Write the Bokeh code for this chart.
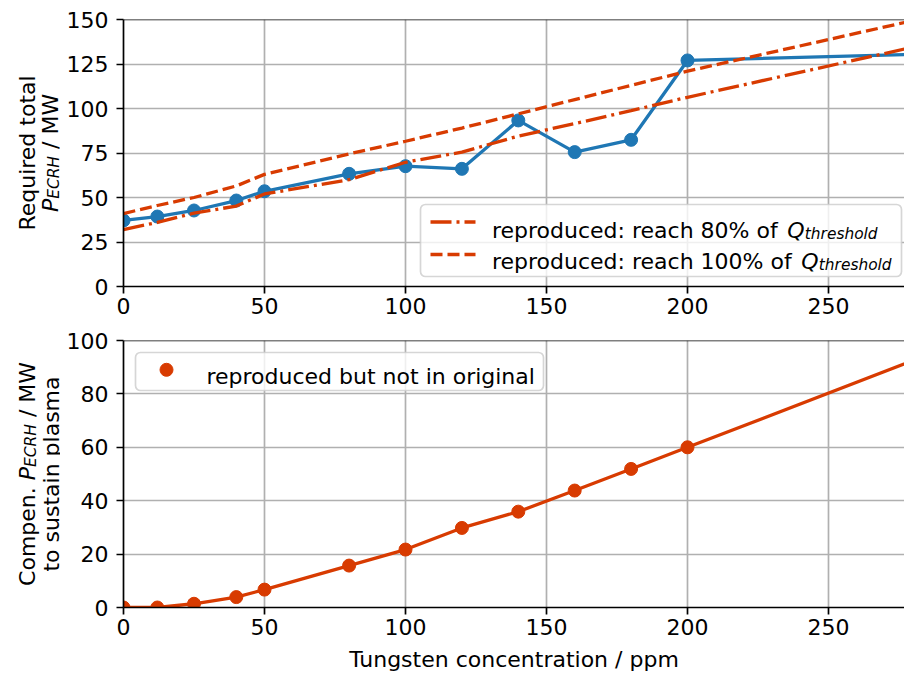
from math import pi
from bokeh.plotting import figure
from bokeh.models import Range1d, FixedTicker, Span, BoxAnnotation, Label
from bokeh.core.properties import value
from bokeh.layouts import column, row
from bokeh.embed import file_html
from bokeh.resources import INLINE

# ---------------- data ----------------
conc = [0, 12, 25, 40, 50, 80, 100, 120, 140, 160, 180, 200, 300]
p_total = [37.1, 39.3, 42.7, 48.3, 53.5, 63.3, 67.6, 66.1, 93.3, 75.5, 82.4, 127.0, 131.3]
p_reach80 = [32.0, 36.0, 41.2, 45.2, 52.0, 60.0, 69.8, 75.5, 84.5, 91.5, 98.8, 106.3, 141.5]
p_reach100 = [41.0, 45.5, 50.0, 56.5, 63.0, 74.5, 81.6, 89.0, 97.0, 105.0, 113.0, 121.0, 156.5]
p_compen = [0.0, 0.0, 1.4, 3.9, 6.7, 15.7, 21.7, 29.8, 35.9, 43.8, 51.9, 60.0, 100.6]
x_ticks = [0, 50, 100, 150, 200, 250]
y_ticks_top = [0, 25, 50, 75, 100, 125, 150]
y_ticks_bottom = [0, 20, 40, 60, 80, 100]
legend_top = ["reproduced: reach 80% of", "reproduced: reach 100% of"]
legend_bottom = "reproduced but not in original"
x_label = "Tungsten concentration / ppm"

# ---------------- style ----------------
BLUE = "#1f77b4"
ORANGE = "#d83b01"
FONT = "DejaVu Sans"
F = 22
FS = 15.4
LW = 3.3

# ---------------- geometry (page pixels) ----------------
LBL_W = 60
FRAME_L, FRAME_R = 123, 904
X_END = (FRAME_R - FRAME_L) / 2.82
SX = (FRAME_R - FRAME_L) / X_END
H1, H2 = 323, 356
T1_TOP, T1_BOT = 19, 286
T2_TOP, T2_BOT = 340, 607


def xd(px):
    return (px - FRAME_L) / SX


def yd1(py):
    return (T1_BOT - py) / ((T1_BOT - T1_TOP) / 150.0)


def yd2(py):
    return (T2_BOT - py) / ((T2_BOT - T2_TOP) / 100.0)


def make_fig(height, top, bottom, ymax, yticks):
    p = figure(width=904 - LBL_W, height=height, output_backend="svg", toolbar_location=None,
               x_range=Range1d(0, X_END), y_range=Range1d(0, ymax),
               min_border_left=FRAME_L - LBL_W, min_border_right=0,
               min_border_top=top, min_border_bottom=bottom)
    p.outline_line_color = None
    p.background_fill_color = "white"
    p.border_fill_color = "white"
    for ax in (p.xaxis[0], p.yaxis[0]):
        ax.axis_line_color = "black"
        ax.axis_line_width = 1.7
        ax.major_tick_line_color = "black"
        ax.major_tick_line_width = 1.7
        ax.major_tick_out = 7
        ax.major_tick_in = 0
        ax.minor_tick_line_color = None
        ax.major_label_text_font = FONT
        ax.major_label_text_font_size = f"{F}px"
        ax.major_label_text_color = "black"
    p.xaxis[0].ticker = FixedTicker(ticks=x_ticks)
    p.yaxis[0].ticker = FixedTicker(ticks=yticks)
    p.xaxis[0].major_label_standoff = 4
    p.yaxis[0].major_label_standoff = 8
    for g in (p.xgrid[0], p.ygrid[0]):
        g.grid_line_color = "#b0b0b0"
        g.grid_line_width = 1.7
    p.xgrid[0].ticker = FixedTicker(ticks=x_ticks)
    p.ygrid[0].ticker = FixedTicker(ticks=yticks)
    p.add_layout(Span(location=ymax, dimension="width", line_color="black", line_width=1.7))
    return p


def label_fig(height, top, bottom, page_top, page_bot):
    # a narrow strip whose frame is aligned with the neighbouring plot frame;
    # its y coordinate is minus the page pixel row
    q = figure(width=LBL_W, height=height, output_backend="svg", toolbar_location=None,
               x_range=Range1d(0, LBL_W), y_range=Range1d(-page_bot, -page_top),
               x_axis_location=None, y_axis_location=None, min_border=0)
    q.min_border_left = 0
    q.min_border_right = 0
    q.min_border_top = top
    q.min_border_bottom = bottom
    q.outline_line_color = None
    q.grid.visible = False
    q.background_fill_color = "white"
    q.border_fill_color = "white"
    return q


def rtext(q, x, py, text, size=F, style="normal", align="left"):
    # rotated (reading upwards) text, page pixel coordinates
    q.text(x=[x], y=[-py], text=[text], angle=pi / 2,
           text_align=align, text_baseline="alphabetic", text_font=value(FONT),
           text_font_size=value(f"{size}px"), text_font_style=style, text_color="black")


def lab(p, x, y, text, size=F, style="normal"):
    p.add_layout(Label(x=x, y=y, text=text, text_align="left", text_baseline="alphabetic",
                       text_font=FONT, text_font_size=f"{size}px", text_font_style=style,
                       text_color="black", level="overlay"))


# ---------------- top panel ----------------
p1 = make_fig(H1, T1_TOP, H1 - T1_BOT, 150, y_ticks_top)
p1.line(conc, p_total, line_color=BLUE, line_width=LW)
p1.scatter(conc, p_total, size=13, fill_color=BLUE, line_color=BLUE)
p1.line(conc, p_reach80, line_color=ORANGE, line_width=LW, line_dash="21 5 3 5")
p1.line(conc, p_reach100, line_color=ORANGE, line_width=LW, line_dash="12 5")

# legend (top)
p1.add_layout(BoxAnnotation(left=xd(420), right=xd(901), top=yd1(204), bottom=yd1(276),
                            fill_color="white", fill_alpha=0.8, line_color="#cccccc",
                            line_alpha=0.8, line_width=1.7, border_radius=5, level="annotation"))
h1 = p1.line([xd(430), xd(475)], [yd1(221.5), yd1(221.5)], line_color=ORANGE,
             line_width=LW, line_dash="21 5 3 5")
h1.level = "overlay"
h2 = p1.line([xd(430), xd(475)], [yd1(254.0), yd1(254.0)], line_color=ORANGE,
             line_width=LW, line_dash="12 5")
h2.level = "overlay"
for txt, base, qx in zip(legend_top, [230.0, 261.0], [786.8, 800.8]):
    lab(p1, xd(491.5), yd1(base), txt)
    lab(p1, xd(qx), yd1(base), "Q", style="italic")
    lab(p1, xd(qx + 17.5), yd1(base + 3.4), "threshold", size=FS, style="italic")

# y label (top): "Required total" / "P_ECRH / MW"
l1 = label_fig(H1, T1_TOP, H1 - T1_BOT, T1_TOP, T1_BOT)
rtext(l1, 26.5, 152.5, "Required total", align="center")
y0 = 211.6
rtext(l1, 50, y0, "P", style="italic")
rtext(l1, 53.5, y0 - 13.3, "ECRH", size=FS, style="italic")
rtext(l1, 50, y0 - 13.3 - 42.8 - 7.0, "/ MW")

# ---------------- bottom panel ----------------
B2_TOP, B2_BOT = T2_TOP - H1, H1 + H2 - T2_BOT
p2 = make_fig(H2, B2_TOP, B2_BOT, 100, y_ticks_bottom)
p2.line(conc, p_compen, line_color=ORANGE, line_width=LW)
p2.scatter(conc[:-1], p_compen[:-1], size=13, fill_color=ORANGE, line_color=ORANGE)
p2.xaxis[0].axis_label = x_label
p2.xaxis[0].axis_label_text_font = FONT
p2.xaxis[0].axis_label_text_font_size = f"{F}px"
p2.xaxis[0].axis_label_text_font_style = "normal"
p2.xaxis[0].axis_label_text_color = "black"
p2.xaxis[0].axis_label_standoff = 9

# legend (bottom)
p2.add_layout(BoxAnnotation(left=xd(135), right=xd(543), top=yd2(352), bottom=yd2(390),
                            fill_color="white", fill_alpha=0.8, line_color="#cccccc",
                            line_alpha=0.8, line_width=1.7, border_radius=5, level="annotation"))
hm = p2.scatter([xd(166)], [yd2(369.3)], size=13, fill_color=ORANGE, line_color=ORANGE)
hm.level = "overlay"
lab(p2, xd(206), yd2(375.5), legend_bottom)

# y label (bottom): "Compen. P_ECRH / MW" / "to sustain plasma"
l2 = label_fig(H2, B2_TOP, B2_BOT, T2_TOP, T2_BOT)
y1 = 585.4
rtext(l2, 27, y1, "Compen.")
yP = y1 - 98.7 - 7.0
rtext(l2, 27, yP, "P", style="italic")
rtext(l2, 30.5, yP - 13.3, "ECRH", size=FS, style="italic")
rtext(l2, 27, yP - 13.3 - 42.8 - 7.0, "/ MW")
rtext(l2, 51, 473.5, "to sustain plasma", align="center")

layout = column(row(l1, p1, spacing=0), row(l2, p2, spacing=0), spacing=0)
open("out.html", "w").write(file_html(layout, INLINE))
